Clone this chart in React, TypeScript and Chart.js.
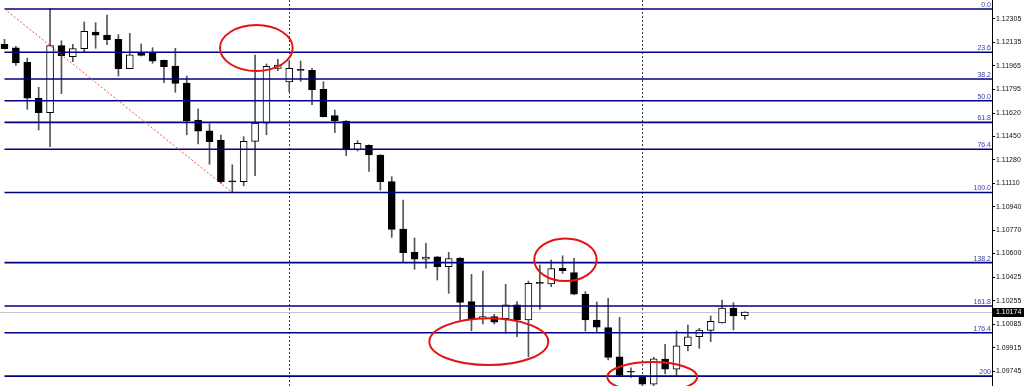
import { useEffect, useRef } from "react";
import { Chart, registerables } from "chart.js";

Chart.register(...registerables);

// EURUSD-style candles, one entry per bar (oldest first)
const OPEN = [
  1.12121, 1.12096, 1.1199, 1.11728, 1.11623, 1.12111, 1.12031, 1.12089, 1.1221, 1.12188,
  1.12157, 1.11943, 1.12058, 1.12063, 1.12004, 1.11963, 1.11839, 1.1157, 1.11492, 1.11425,
  1.11122, 1.11122, 1.11415, 1.11548, 1.11946, 1.11847, 1.11932, 1.11932, 1.11794, 1.11602,
  1.11563, 1.11352, 1.11386, 1.11316, 1.11122, 1.10778, 1.10608, 1.10558, 1.10576, 1.10503,
  1.10567, 1.10249, 1.10125, 1.1014, 1.10125, 1.10227, 1.10116, 1.10383, 1.10378, 1.10492,
  1.1046, 1.10302, 1.10116, 1.1006, 1.09849, 1.09738, 1.09708, 1.0965, 1.09832, 1.09759,
  1.09929, 1.09994, 1.10041, 1.10094, 1.10201, 1.10147,
];
const HIGH = [
  1.12157, 1.12106, 1.12021, 1.11808, 1.12378, 1.12147, 1.12121, 1.12283, 1.12278, 1.12334,
  1.12191, 1.12201, 1.12123, 1.12096, 1.12006, 1.12092, 1.1189, 1.11652, 1.11543, 1.11461,
  1.11245, 1.11449, 1.12043, 1.11978, 1.12012, 1.11999, 1.11999, 1.11946, 1.11849, 1.11643,
  1.11566, 1.1142, 1.1139, 1.11318, 1.11158, 1.10988, 1.10712, 1.10674, 1.10578, 1.10608,
  1.1057, 1.10448, 1.10472, 1.10157, 1.10375, 1.10249, 1.10399, 1.10516, 1.10552, 1.10583,
  1.10564, 1.10323, 1.10247, 1.10274, 1.10135, 1.09769, 1.09712, 1.09844, 1.09939, 1.10036,
  1.10079, 1.10055, 1.10145, 1.10261, 1.10242, 1.10176,
];
const LOW = [
  1.12087, 1.11968, 1.11648, 1.11498, 1.11376, 1.11762, 1.11994, 1.12063, 1.12092, 1.12118,
  1.1189, 1.11943, 1.12036, 1.11983, 1.11842, 1.11772, 1.11463, 1.11396, 1.11248, 1.1111,
  1.11043, 1.11092, 1.11165, 1.11463, 1.11929, 1.11776, 1.11852, 1.11682, 1.11592, 1.11478,
  1.11311, 1.11345, 1.11196, 1.11061, 1.10717, 1.10535, 1.10485, 1.10492, 1.10407, 1.1031,
  1.10116, 1.10038, 1.10087, 1.10087, 1.10019, 1.09994, 1.09849, 1.10193, 1.10358, 1.10455,
  1.103, 1.10036, 1.10027, 1.09825, 1.0971, 1.09699, 1.0963, 1.09638, 1.09723, 1.09711,
  1.09892, 1.0991, 1.09958, 1.10092, 1.10043, 1.10121,
];
const CLOSE = [
  1.12089, 1.11985, 1.1173, 1.11623, 1.12111, 1.12038, 1.12089, 1.12215, 1.12188, 1.12154,
  1.11943, 1.12045, 1.1204, 1.11999, 1.11958, 1.11837, 1.11563, 1.1149, 1.11412, 1.11122,
  1.1112, 1.11415, 1.11548, 1.11961, 1.1197, 1.11946, 1.11931, 1.11791, 1.11594, 1.11565,
  1.11352, 1.11401, 1.11316, 1.11122, 1.10775, 1.10605, 1.10558, 1.10574, 1.10503, 1.10563,
  1.10244, 1.10125, 1.1014, 1.10101, 1.10227, 1.10116, 1.10383, 1.10382, 1.10489, 1.10474,
  1.10303, 1.10116, 1.10063, 1.09844, 1.09713, 1.09736, 1.0965, 1.09834, 1.09759, 1.09929,
  1.09994, 1.10043, 1.10106, 1.10203, 1.10145, 1.10174,
];

// Price axis labels
const PRICE_TICKS = [
  1.12305, 1.12135, 1.11965, 1.11795, 1.1162, 1.1145, 1.1128, 1.1111,
  1.1094, 1.1077, 1.106, 1.10425, 1.10255, 1.10085, 1.09915, 1.09745,
];

// Fibonacci retracement / expansion from swing high to swing low
const FIB_HIGH = 1.12378;
const FIB_LOW = 1.11043;
const FIB_FROM_BAR = 0;
const FIB_TO_BAR = 20;
const FIB_RATIOS = [0, 23.6, 38.2, 50, 61.8, 76.4, 100, 138.2, 161.8, 176.4, 200];
const FIB_LABELS = ["0.0", "23.6", "38.2", "50.0", "61.8", "76.4", "100.0", "138.2", "161.8", "176.4", "200"];

// Bars where a new trading day starts
const DAY_BREAK_BARS = [25, 56];

// Circled reactions around the fib levels: [bar, price, half-width in bars, half-height in price]
const MARK_BARS = [22.11, 42.52, 49.25, 56.87];
const MARK_PRICES = [1.12094, 1.09958, 1.10554, 1.09701];
const MARK_HALF_BARS = [3.19, 5.22, 2.74, 3.95];
const MARK_HALF_PRICES = [0.00167, 0.0017, 0.00155, 0.00109];

const X_MIN = -0.395;
const X_MAX = 86.7;
const Y_MIN = 1.09636;
const Y_MAX = 1.12443;

const FONT = "Liberation Sans, Arial, sans-serif";

const overlay = {
  id: "mtOverlay",
  beforeDatasetsDraw(chart: any) {
    const { ctx, chartArea, scales } = chart;
    const xs = scales.x;
    const ys = scales.y;
    ctx.save();
    ctx.beginPath();
    ctx.rect(chartArea.left, chartArea.top, chartArea.right - chartArea.left, chartArea.bottom - chartArea.top);
    ctx.clip();

    // day separators
    ctx.strokeStyle = "#3a3a3a";
    ctx.lineWidth = 1;
    ctx.setLineDash([2, 2]);
    DAY_BREAK_BARS.forEach((b) => {
      const x = Math.round(xs.getPixelForValue(b)) + 0.5;
      ctx.beginPath();
      ctx.moveTo(x, chartArea.top);
      ctx.lineTo(x, chartArea.bottom);
      ctx.stroke();
    });
    ctx.setLineDash([]);

    // last price line
    const yp = Math.round(ys.getPixelForValue(CLOSE[CLOSE.length - 1])) + 0.5;
    ctx.strokeStyle = "#c6c6c6";
    ctx.beginPath();
    ctx.moveTo(chartArea.left, yp);
    ctx.lineTo(chartArea.right, yp);
    ctx.stroke();
    ctx.restore();
  },
  afterDatasetsDraw(chart: any) {
    const { ctx, chartArea, scales } = chart;
    const xs = scales.x;
    const ys = scales.y;
    ctx.save();
    ctx.beginPath();
    ctx.rect(chartArea.left, chartArea.top, chartArea.right - chartArea.left, chartArea.bottom - chartArea.top);
    ctx.clip();

    // fib levels
    const range = FIB_HIGH - FIB_LOW;
    const x0 = xs.getPixelForValue(FIB_FROM_BAR);
    ctx.font = `7px ${FONT}`;
    ctx.textAlign = "right";
    ctx.textBaseline = "bottom";
    FIB_RATIOS.forEach((r, i) => {
      const y = ys.getPixelForValue(FIB_HIGH - (r / 100) * range);
      ctx.strokeStyle = "#000080";
      ctx.lineWidth = 1.6;
      ctx.beginPath();
      ctx.moveTo(x0, y);
      ctx.lineTo(chartArea.right, y);
      ctx.stroke();
      ctx.fillStyle = "#3c3ca6";
      ctx.fillText(FIB_LABELS[i], chartArea.right - 1, y - 0.5);
    });

    // fib trend line
    ctx.strokeStyle = "#ff4a4a";
    ctx.lineWidth = 1;
    ctx.setLineDash([2, 2]);
    ctx.beginPath();
    ctx.moveTo(xs.getPixelForValue(FIB_FROM_BAR), ys.getPixelForValue(FIB_HIGH));
    ctx.lineTo(xs.getPixelForValue(FIB_TO_BAR), ys.getPixelForValue(FIB_LOW));
    ctx.stroke();
    ctx.setLineDash([]);

    // circled areas
    ctx.strokeStyle = "#e41414";
    ctx.lineWidth = 2;
    MARK_BARS.forEach((b, i) => {
      const cx = xs.getPixelForValue(b);
      const cy = ys.getPixelForValue(MARK_PRICES[i]);
      const rx = Math.abs(xs.getPixelForValue(b + MARK_HALF_BARS[i]) - cx);
      const ry = Math.abs(ys.getPixelForValue(MARK_PRICES[i] + MARK_HALF_PRICES[i]) - cy);
      ctx.beginPath();
      ctx.ellipse(cx, cy, rx, ry, 0, 0, Math.PI * 2);
      ctx.stroke();
    });
    ctx.restore();
  },
  afterDraw(chart: any) {
    const { ctx, chartArea, scales } = chart;
    const last = CLOSE[CLOSE.length - 1];
    const y = Math.round(scales.y.getPixelForValue(last));
    ctx.save();
    ctx.fillStyle = "#000";
    ctx.fillRect(chartArea.right + 1, y - 4, chart.width - chartArea.right - 1, 9);
    ctx.fillStyle = "#fff";
    ctx.font = `7px ${FONT}`;
    ctx.textAlign = "left";
    ctx.textBaseline = "middle";
    ctx.fillText(last.toFixed(5), chartArea.right + 4, y + 0.5);
    ctx.restore();
  },
};

export default function App() {
  const ref = useRef<HTMLCanvasElement>(null);

  useEffect(() => {
    if (!ref.current) return;
    const bars = OPEN.map((_, i) => i);
    const wicks = bars.map((i) => ({ x: i, y: [LOW[i], HIGH[i]] }));
    const bodies = bars.map((i) => ({ x: i, y: [OPEN[i], CLOSE[i]] }));
    const fills = bars.map((i) => (CLOSE[i] >= OPEN[i] ? "#ffffff" : "#000000"));

    const chart = new Chart(ref.current, {
      type: "bar",
      data: {
        datasets: [
          {
            label: "range",
            data: wicks as any,
            backgroundColor: "#555555",
            borderWidth: 0,
            barThickness: 1,
            grouped: false,
            order: 2,
          },
          {
            label: "body",
            data: bodies as any,
            backgroundColor: fills,
            borderColor: "#000000",
            borderWidth: 1,
            borderSkipped: false,
            barThickness: 7,
            minBarLength: 1,
            grouped: false,
            order: 1,
          },
        ],
      },
      options: {
        animation: false,
        responsive: false,
        devicePixelRatio: 1,
        layout: { padding: 0 },
        plugins: { legend: { display: false }, tooltip: { enabled: false } },
        scales: {
          x: { type: "linear", display: false, min: X_MIN, max: X_MAX, offset: false },
          y: {
            type: "linear",
            position: "right",
            min: Y_MIN,
            max: Y_MAX,
            afterBuildTicks: (s: any) => {
              s.ticks = PRICE_TICKS.map((v) => ({ value: v }));
            },
            afterFit: (s: any) => {
              s.width = 32;
              s.paddingTop = 0;
              s.paddingBottom = 0;
            },
            grid: { drawOnChartArea: false, drawTicks: true, tickLength: 3, color: "#000" },
            border: { display: true, color: "#000", width: 1 },
            ticks: {
              autoSkip: false,
              padding: 1,
              color: "#111",
              font: { family: FONT, size: 7 },
              callback: (v: any) => Number(v).toFixed(5),
            },
          },
        },
      } as any,
      plugins: [overlay],
    });
    return () => chart.destroy();
  }, []);

  return (
    <div style={{ position: "fixed", left: 0, top: 0, width: 1024, height: 386, background: "#fff" }}>
      <canvas ref={ref} width={1024} height={386} style={{ display: "block" }} />
    </div>
  );
}
